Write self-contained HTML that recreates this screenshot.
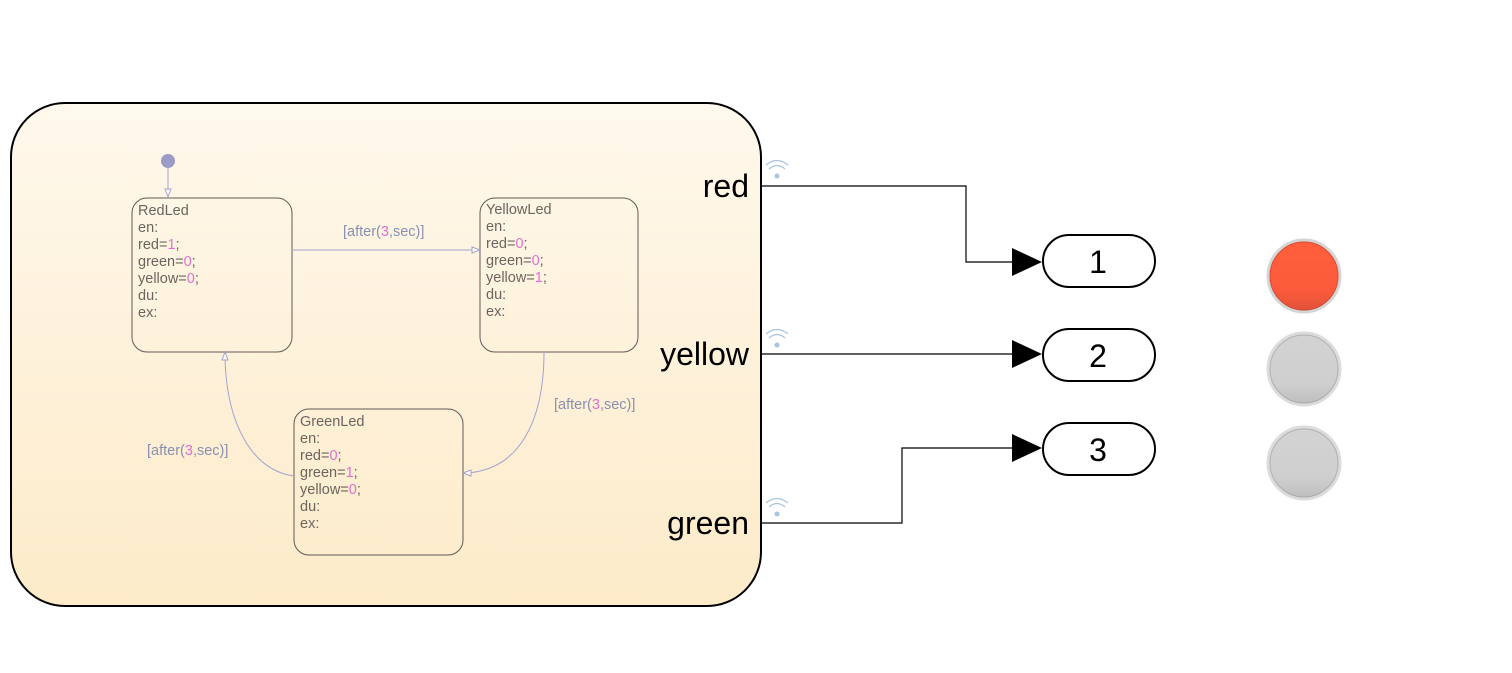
<!DOCTYPE html>
<html><head><meta charset="utf-8"><style>
html,body{margin:0;padding:0;background:#fff;}
svg{display:block;font-family:"Liberation Sans",Arial,sans-serif;}
</style></head><body>
<svg width="1512" height="673" viewBox="0 0 1512 673" xmlns="http://www.w3.org/2000/svg">
<defs>
<linearGradient id="bg" x1="0" y1="0" x2="0" y2="1">
<stop offset="0" stop-color="#fff8ec"/><stop offset="1" stop-color="#fdebc9"/></linearGradient>
<linearGradient id="rg" x1="0" y1="0" x2="0" y2="1">
<stop offset="0" stop-color="#ff5f3d"/><stop offset="0.7" stop-color="#fb5b3a"/><stop offset="1" stop-color="#e0513a"/></linearGradient>
<linearGradient id="gg" x1="0" y1="0" x2="0" y2="1">
<stop offset="0" stop-color="#d3d3d3"/><stop offset="0.7" stop-color="#cfcfcf"/><stop offset="1" stop-color="#bdbdbd"/></linearGradient>
</defs>
<rect x="11" y="103" width="750" height="503" rx="54" fill="url(#bg)" stroke="#000" stroke-width="2"/>
<g fill="none" stroke="#5e5a55" stroke-width="1">
<rect x="132" y="198" width="160" height="154" rx="15"/>
<rect x="480" y="198" width="158" height="154" rx="15"/>
<rect x="294" y="409" width="169" height="146" rx="15"/>
</g>
<circle cx="168" cy="161" r="7" fill="#9a9bc6"/>
<g fill="none" stroke="#a3a4d0" stroke-width="1">
<line x1="168" y1="161" x2="168" y2="196"/>
<line x1="292" y1="250" x2="476" y2="250"/>
<path d="M544 352 C544 420 520 470 466 473"/>
<path d="M294 476 C250 470 226 420 225 356"/>
</g>
<g fill="#fff8ec" stroke="#a3a4d0" stroke-width="1">
<path d="M165 189 L171 189 L168 197 Z"/>
<path d="M472 247 L472 253 L480 250 Z"/>
<path d="M471 470 L471 476 L463 473 Z"/>
<path d="M222 360 L228 360 L225 352 Z"/>
</g>
<g font-size="14.5" fill="#6b6560">
<text x="138" y="215">RedLed</text>
<text x="138" y="232">en:</text>
<text x="138" y="249">red=<tspan fill="#e070d0">1</tspan>;</text>
<text x="138" y="266">green=<tspan fill="#e070d0">0</tspan>;</text>
<text x="138" y="283">yellow=<tspan fill="#e070d0">0</tspan>;</text>
<text x="138" y="300">du:</text>
<text x="138" y="317">ex:</text>
<text x="486" y="214">YellowLed</text>
<text x="486" y="231">en:</text>
<text x="486" y="248">red=<tspan fill="#e070d0">0</tspan>;</text>
<text x="486" y="265">green=<tspan fill="#e070d0">0</tspan>;</text>
<text x="486" y="282">yellow=<tspan fill="#e070d0">1</tspan>;</text>
<text x="486" y="299">du:</text>
<text x="486" y="316">ex:</text>
<text x="300" y="426">GreenLed</text>
<text x="300" y="443">en:</text>
<text x="300" y="460">red=<tspan fill="#e070d0">0</tspan>;</text>
<text x="300" y="477">green=<tspan fill="#e070d0">1</tspan>;</text>
<text x="300" y="494">yellow=<tspan fill="#e070d0">0</tspan>;</text>
<text x="300" y="511">du:</text>
<text x="300" y="528">ex:</text>
</g>
<g font-size="14.5" fill="#8890b0">
<text x="343" y="236">[after(<tspan fill="#e070d0">3</tspan>,sec)]</text>
<text x="554" y="409">[after(<tspan fill="#e070d0">3</tspan>,sec)]</text>
<text x="147" y="455">[after(<tspan fill="#e070d0">3</tspan>,sec)]</text>
</g>
<g font-size="32" fill="#000" text-anchor="end">
<text x="749" y="197">red</text>
<text x="749" y="365">yellow</text>
<text x="749" y="534">green</text>
</g>
<g fill="none" stroke="#a8c4e0" stroke-width="1.3">
<path d="M769 169 Q777 162 785 169"/><path d="M766 165 Q777 156 788 165"/>
<path d="M769 338 Q777 331 785 338"/><path d="M766 334 Q777 325 788 334"/>
<path d="M769 507 Q777 500 785 507"/><path d="M766 503 Q777 494 788 503"/>
</g>
<g fill="#a8c4e0"><circle cx="777" cy="176" r="2.5"/><circle cx="777" cy="345" r="2.5"/><circle cx="777" cy="514" r="2.5"/></g>
<g fill="none" stroke="#000" stroke-width="1.2">
<polyline points="762,186 966,186 966,262 1014,262"/>
<line x1="762" y1="354" x2="1014" y2="354"/>
<polyline points="762,523 902,523 902,448 1014,448"/>
</g>
<g fill="#000">
<path d="M1012 248 L1042 262 L1012 276 Z"/>
<path d="M1012 340 L1042 354 L1012 368 Z"/>
<path d="M1012 434 L1042 448 L1012 462 Z"/>
</g>
<g fill="#fff" stroke="#000" stroke-width="2">
<rect x="1043" y="235" width="112" height="52" rx="26"/>
<rect x="1043" y="329" width="112" height="52" rx="26"/>
<rect x="1043" y="423" width="112" height="52" rx="26"/>
</g>
<g font-size="32" text-anchor="middle" fill="#000">
<text x="1098" y="273">1</text><text x="1098" y="367">2</text><text x="1098" y="461">3</text>
</g>
<circle cx="1304" cy="276" r="36" fill="url(#rg)" stroke="#d5d5d5" stroke-width="3"/>
<circle cx="1304" cy="276" r="34" fill="none" stroke="#b04030" stroke-width="1" opacity="0.5"/>
<circle cx="1304" cy="369" r="36" fill="url(#gg)" stroke="#dcdcdc" stroke-width="3"/>
<circle cx="1304" cy="369" r="34" fill="none" stroke="#999" stroke-width="1" opacity="0.6"/>
<circle cx="1304" cy="463" r="36" fill="url(#gg)" stroke="#dcdcdc" stroke-width="3"/>
<circle cx="1304" cy="463" r="34" fill="none" stroke="#999" stroke-width="1" opacity="0.6"/>
</svg>
</body></html>
